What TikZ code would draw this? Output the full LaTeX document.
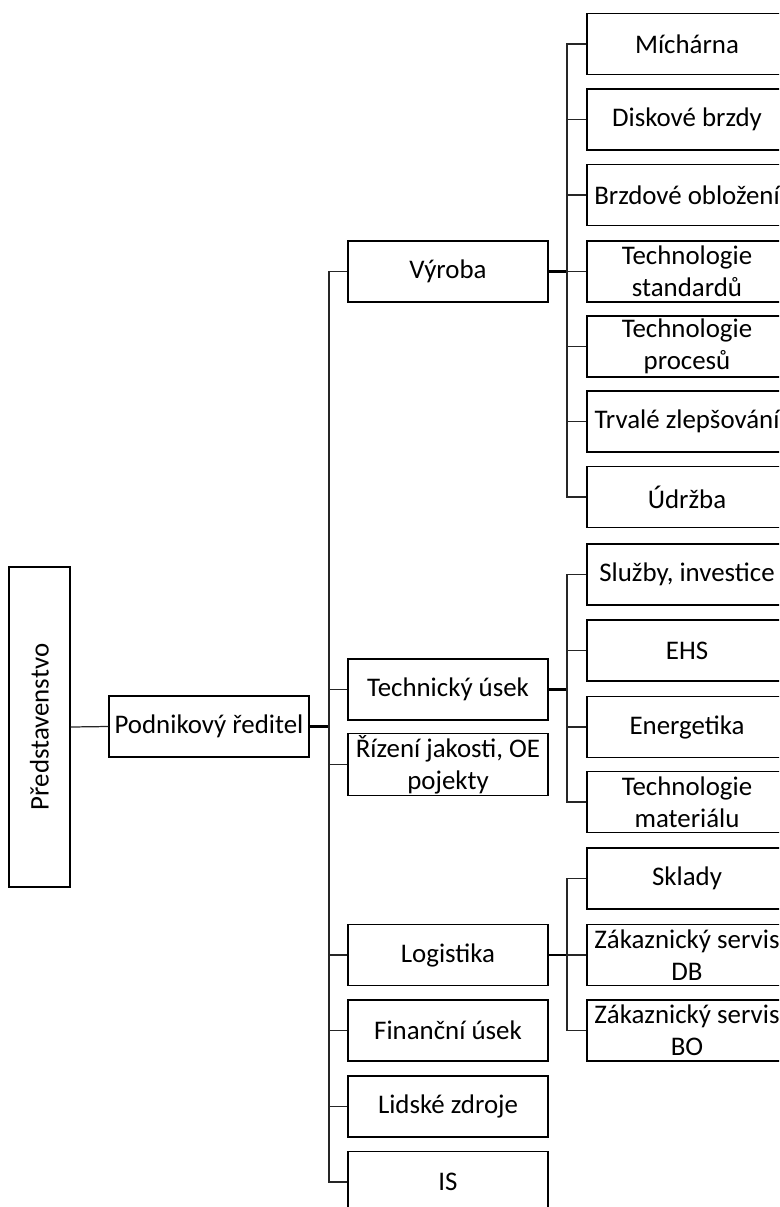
\documentclass[tikz,border=0pt]{standalone}
\usepackage{fontspec}
\setmainfont{Carlito}
\tikzset{
% Two box styles for the chart: units and their links
unit box/.style={rectangle,draw,line width=0.75pt,minimum width=4cm,minimum height=1.22cm,inner sep=1pt,align=center,font=\fontsize{15.3}{18.2}\selectfont},
link/.style={draw=black!85,line width=0.7pt},
main link/.style={draw=black,line width=1.2pt}
}

\begin{document}
\begin{tikzpicture}[x=0.02cm,y=-0.02cm]
  \useasboundingbox (0,0) rectangle (779,1207);
  \clip (0,0) rectangle (779,1207);
  % board and director
  \node[unit box, rotate=90, minimum width=6.4cm] (board) at (39.5,727) {Představenstvo};
  \node[unit box] (ceo) at (209,726.5) {Podnikový ředitel};
  \draw[link] (board.south) -- (ceo.west);
  % departments
  \node[unit box] (vyroba) at (448,271.5) {Výroba};
  \node[unit box] (tech) at (448,689.5) {Technický úsek};
  \node[unit box] (qual) at (448,764.5) {Řízení jakosti, OE\\pojekty};
  \node[unit box] (logi) at (448,955) {Logistika};
  \node[unit box] (fin) at (448,1030.5) {Finanční úsek};
  \node[unit box] (hr) at (448,1106.5) {Lidské zdroje};
  \node[unit box] (is) at (448,1182) {IS};
  \coordinate (bus ceo) at (329,726.5);
  \draw[main link] (ceo.east) -- (bus ceo);
  \draw[link] (vyroba.west) -| (bus ceo);
  \draw[link] (tech.west) -| (bus ceo);
  \draw[link] (qual.west) -| (bus ceo);
  \draw[link] (logi.west) -| (bus ceo);
  \draw[link] (fin.west) -| (bus ceo);
  \draw[link] (hr.west) -| (bus ceo);
  \draw[link] (is.west) -| (bus ceo);
  % production
  \node[unit box] (mich) at (687,44) {Míchárna};
  \node[unit box] (disk) at (687,119.5) {Diskové brzdy};
  \node[unit box] (brzd) at (687,195) {Brzdové obložení};
  \node[unit box] (tstd) at (687,271.5) {Technologie\\standardů};
  \node[unit box] (tproc) at (687,346.5) {Technologie\\procesů};
  \node[unit box] (trv) at (687,421.5) {Trvalé zlepšování};
  \node[unit box] (udr) at (687,497) {Údržba};
  \coordinate (bus vyroba) at (567,271.5);
  \draw[main link] (vyroba.east) -- (bus vyroba);
  \draw[link] (mich.west) -| (bus vyroba);
  \draw[link] (disk.west) -| (bus vyroba);
  \draw[link] (brzd.west) -| (bus vyroba);
  \draw[link] (tstd.west) -| (bus vyroba);
  \draw[link] (tproc.west) -| (bus vyroba);
  \draw[link] (trv.west) -| (bus vyroba);
  \draw[link] (udr.west) -| (bus vyroba);
  % technical
  \node[unit box] (sluz) at (687,574.5) {Služby, investice};
  \node[unit box] (ehs) at (687,650.5) {EHS};
  \node[unit box] (ener) at (687,727) {Energetika};
  \node[unit box] (tmat) at (687,802) {Technologie\\materiálu};
  \coordinate (bus tech) at (567,689.5);
  \draw[main link] (tech.east) -- (bus tech);
  \draw[link] (sluz.west) -| (bus tech);
  \draw[link] (ehs.west) -| (bus tech);
  \draw[link] (ener.west) -| (bus tech);
  \draw[link] (tmat.west) -| (bus tech);
  % logistics
  \node[unit box] (skl) at (687,878.5) {Sklady};
  \node[unit box] (zdb) at (687,955) {Zákaznický servis\\DB};
  \node[unit box] (zbo) at (687,1030.5) {Zákaznický servis\\BO};
  \coordinate (bus logi) at (567,955);
  \draw[main link] (logi.east) -- (bus logi);
  \draw[link] (skl.west) -| (bus logi);
  \draw[link] (zdb.west) -| (bus logi);
  \draw[link] (zbo.west) -| (bus logi);
\end{tikzpicture}
\end{document}
